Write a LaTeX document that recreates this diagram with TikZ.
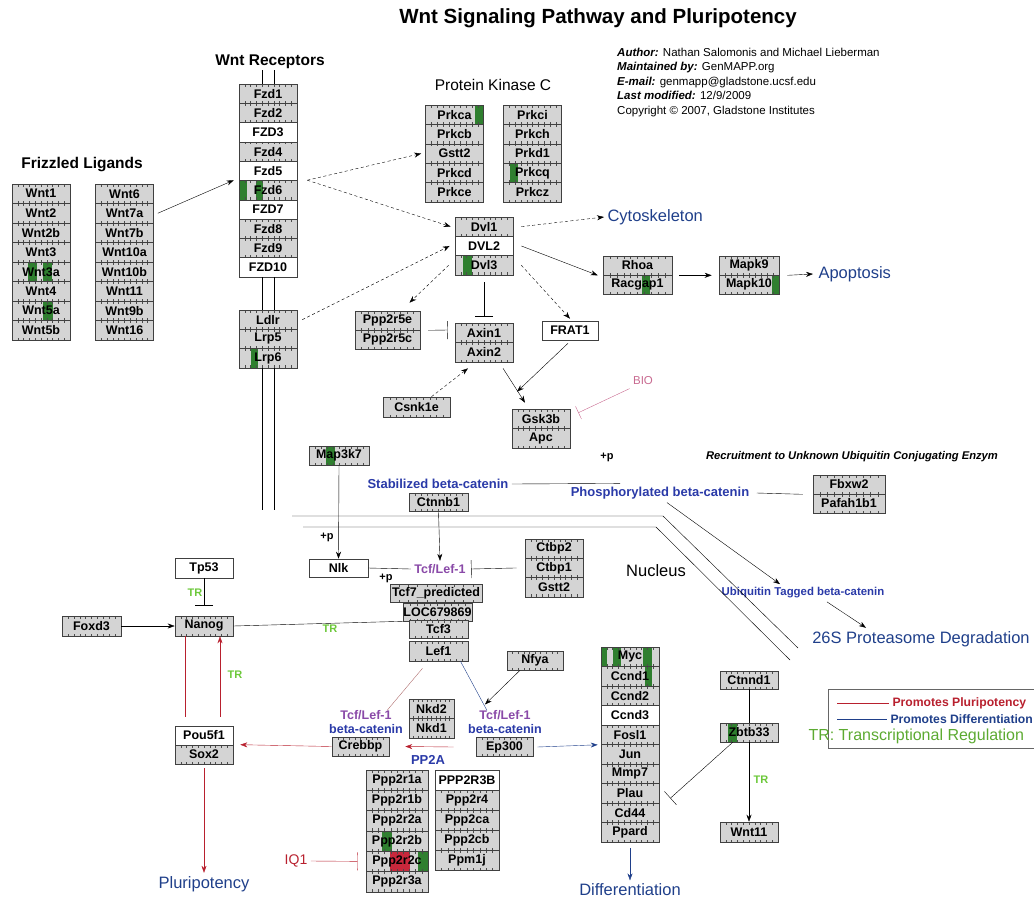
\documentclass[tikz,border=0pt]{standalone}
\usepackage{fontspec}
\setmainfont{Liberation Sans}
\usetikzlibrary{arrows.meta,calc}

\definecolor{boxgray}{HTML}{D4D4D4}
\definecolor{hlgreen}{HTML}{2F7F2F}
\definecolor{hlred}{HTML}{C8283C}
\definecolor{navy}{HTML}{1F3F8A}
\definecolor{catblue}{HTML}{2A3AA8}
\definecolor{tcfpurple}{HTML}{8A4AA8}
\definecolor{trgreen}{HTML}{6CC83A}
\definecolor{pluri}{HTML}{B8202E}
\definecolor{biopink}{HTML}{C86A90}
\definecolor{lefred}{HTML}{B07070}

% ticks and expression bars of a gene box
\newcommand\genepic{%
  \ifx\hlspec\empty\else
    \foreach \ha/\hb/\hc in \hlspec{%
      \fill[\hc] ($(path picture bounding box.south west)!\ha!(path picture bounding box.south east)$)
        rectangle ($(path picture bounding box.north west)!\hb!(path picture bounding box.north east)$);}%
  \fi
  \foreach \t in {0.1,0.2,...,0.95}{%
    \draw[black!70,line width=0.4pt]
      ($(path picture bounding box.north west)!\t!(path picture bounding box.north east)$) -- ++(0,-2.5pt)
      ($(path picture bounding box.south west)!\t!(path picture bounding box.south east)$) -- ++(0,2.5pt);}%
}

\tikzset{
  hl/.code={\def\hlspec{#1}},
  gene/.style={draw=black!75, line width=0.6pt, fill=boxgray, minimum width=58pt, minimum height=19.3pt,
    inner sep=0pt, font=\bfseries\fontsize{12.5}{13}\selectfont, hl={}, path picture={\genepic}},
  blank/.style={fill=white, path picture={}},
  heading/.style={font=\bfseries\fontsize{15.5}{17}\selectfont},
  outcome/.style={text=navy, font=\fontsize{16.5}{18}\selectfont},
  catlabel/.style={text=catblue, font=\bfseries\fontsize{13}{14}\selectfont},
  trlabel/.style={text=trgreen, font=\bfseries\fontsize{11}{12}\selectfont},
  plabel/.style={font=\bfseries\fontsize{11}{12}\selectfont},
  act/.style={-{Stealth[length=7pt,width=5pt]}},
  inh/.style={-{Bar[width=18pt]}},
  dact/.style={act, dash pattern=on 3pt off 2.5pt},
  % expression data and plain boxes
  expr/Wnt3a/.style={hl={0.28/0.43/hlgreen,0.53/0.69/hlgreen}},
  expr/Wnt5a/.style={hl={0.53/0.71/hlgreen}},
  expr/Fzd6/.style={hl={0.02/0.14/hlgreen,0.3/0.41/hlgreen}},
  expr/Lrp6/.style={hl={0.2/0.33/hlgreen}},
  expr/Prkca/.style={hl={0.85/1/hlgreen}},
  expr/Prkcq/.style={hl={0.12/0.25/hlgreen}},
  expr/Dvl3/.style={hl={0.14/0.29/hlgreen}},
  expr/Racgap1/.style={hl={0.56/0.68/hlgreen}},
  expr/Mapk10/.style={hl={0.88/1/hlgreen}},
  expr/Myc/.style={hl={0/0.1/hlgreen,0.2/0.35/hlgreen,0.72/0.88/hlgreen}},
  expr/Ccnd1/.style={hl={0.75/0.88/hlgreen}},
  expr/Ppp2r2b/.style={hl={0.26/0.42/hlgreen}},
  expr/Ppp2r2c/.style={hl={0.39/0.71/hlred,0.84/1/hlgreen}},
  expr/FZD3/.style={blank}, expr/Fzd5/.style={blank}, expr/FZD7/.style={blank},
  expr/FZD10/.style={blank}, expr/DVL2/.style={blank}, expr/Ccnd3/.style={blank},
  expr/Pou5f1/.style={blank}, expr/PPP2R3B/.style={blank},
}

\begin{document}
\begin{tikzpicture}[x=1pt,y=-1pt]
  \useasboundingbox (0,0) rectangle (1034,900);

  % Title and info
  \node (title) at (598,18) {\bfseries\fontsize{20.5}{23}\selectfont Wnt Signaling Pathway and Pluripotency};
  \node[anchor=north west, align=left, inner sep=0pt, font=\fontsize{11.5}{14.4}\selectfont] (info) at (617,48)
    {\textbf{\textit{Author:}} Nathan Salomonis and Michael Lieberman\\
     \textbf{\textit{Maintained by:}} GenMAPP.org\\
     \textbf{\textit{E-mail:}} genmapp@gladstone.ucsf.edu\\
     \textbf{\textit{Last modified:}} 12/9/2009\\
     Copyright © 2007, Gladstone Institutes};

  % Frizzled ligands
  \node[heading] (ligtitle) at (82,165) {Frizzled Ligands};
  \foreach \g [count=\i] in {Wnt1,Wnt2,Wnt2b,Wnt3,Wnt3a,Wnt4,Wnt5a,Wnt5b}
    \node[gene, minimum height=19.5pt, expr/\g/.try] (liga\i) at (41,{174.25+19.5*\i}) {\g};
  \foreach \g [count=\i] in {Wnt6,Wnt7a,Wnt7b,Wnt10a,Wnt10b,Wnt11,Wnt9b,Wnt16}
    \node[gene, minimum height=19.5pt, expr/\g/.try] (ligb\i) at (124.5,{174.25+19.5*\i}) {\g};

  % Receptors
  \node[heading] (rectitle) at (270,62) {Wnt Receptors};
  \foreach \g [count=\i] in {Fzd1,Fzd2,FZD3,Fzd4,Fzd5,Fzd6,FZD7,Fzd8,Fzd9,FZD10}
    \node[gene, expr/\g/.try] (fzd\i) at (268,{74.35+19.3*\i}) {\g};
  \foreach \g [count=\i] in {Ldlr,Lrp5,Lrp6}
    \node[gene, expr/\g/.try] (lrp\i) at (268,{300.35+19.3*\i}) {\g};
  \foreach \dx in {-6,6} {
    \draw ([xshift=\dx pt]fzd1.north) -- ++(0,-14);
    \draw ([xshift=\dx pt]fzd10.south) -- ([xshift=\dx pt]lrp1.north);
    \draw ([xshift=\dx pt]lrp3.south) -- ++(0,142);
  }

  % Protein kinase C
  \node[font=\fontsize{15.5}{17}\selectfont] (pkctitle) at (493,85) {Protein Kinase C};
  \foreach \g [count=\i] in {Prkca,Prkcb,Gstt2,Prkcd,Prkce}
    \node[gene, minimum height=19.4pt, expr/\g/.try] (pkca\i) at (454.5,{95.3+19.4*\i}) {\g};
  \foreach \g [count=\i] in {Prkci,Prkch,Prkd1,Prkcq,Prkcz}
    \node[gene, minimum height=19.4pt, expr/\g/.try] (pkcb\i) at (532.5,{95.3+19.4*\i}) {\g};

  % Dishevelled and downstream
  \foreach \g [count=\i] in {Dvl1,DVL2,Dvl3}
    \node[gene, expr/\g/.try] (dvl\i) at (484,{207.35+19.3*\i}) {\g};
  \node[outcome, anchor=west] (cyto) at (604,217) {Cytoskeleton};
  \foreach \g [count=\i] in {Rhoa,Racgap1}
    \node[gene, minimum width=69pt, minimum height=19pt, expr/\g/.try] (rho\i) at (637.5,{246.5+19*\i}) {\g};
  \foreach \g [count=\i] in {Mapk9,Mapk10}
    \node[gene, minimum width=60pt, minimum height=19pt, expr/\g/.try] (mapk\i) at (749,{246.5+19*\i}) {\g};
  \node[outcome, anchor=west] (apop) at (815,274) {Apoptosis};
  \foreach \g [count=\i] in {Ppp2r5e,Ppp2r5c}
    \node[gene, minimum width=65pt, minimum height=19pt] (pppr\i) at (387.5,{301.5+19*\i}) {\g};
  \foreach \g [count=\i] in {Axin1,Axin2}
    \node[gene, minimum height=19.5pt] (axin\i) at (484,{313.25+19.5*\i}) {\g};
  \node[gene, blank, minimum width=56pt, minimum height=19pt] (frat) at (570,330.5) {FRAT1};
  \node[gene, minimum width=67pt, minimum height=20pt] (csn) at (416.5,407) {Csnk1e};
  \foreach \g [count=\i] in {Gsk3b,Apc}
    \node[gene, minimum height=19.5pt] (gsk\i) at (541,{399.25+19.5*\i}) {\g};
  \node[text=biopink, font=\fontsize{11.5}{12}\selectfont] (bio) at (643,381) {BIO};

  \draw[act] ([xshift=4pt]ligb2.east) -- ([xshift=-5pt]fzd6.north west);
  \draw[dact] ([xshift=10pt]fzd6.north east) -- ([xshift=-4pt]pkca3.west);
  \draw[dact] ([xshift=10pt]fzd6.north east) -- ([xshift=-4pt]dvl1.west);
  \draw[dact] ([xshift=5pt]lrp1.east) -- ([xshift=-5pt]dvl2.west);
  \draw[dact] ([xshift=8pt]dvl1.east) -- (cyto.west);
  \draw[act] ([xshift=8pt]dvl2.east) -- ([xshift=-5pt]rho1.south west);
  \draw[act] ([xshift=7pt]rho1.south east) -- ([xshift=-7pt]mapk1.south west);
  \draw[act] ([xshift=8pt]mapk1.south east) -- ([xshift=-2pt]apop.west);
  \draw[dact] ([xshift=-6pt]dvl3.west) -- ([shift={(22,-8)}]pppr1.north);
  \draw[inh] ([yshift=-7pt]dvl3.south) -- ([yshift=6pt]axin1.north);
  \draw[inh] ([xshift=8pt]pppr1.south east) -- ([shift={(-7,-2.75)}]axin1.west);
  \draw[dact] ([xshift=8pt]dvl3.east) -- ([yshift=2pt]frat.north);
  \draw[act] ([shift={(-2,3)}]frat.south) -- ([shift={(-24,-17)}]gsk1.north);
  \draw[act] ([shift={(19,6)}]axin2.south) -- ([shift={(-16,-6)}]gsk1.north);
  \draw[dact] ([xshift=15pt]csn.north) -- ([shift={(-16,6)}]axin2.south);
  \draw[biopink, -{Bar[width=14pt]}] (bio.south west) -- ([shift={(8,-6)}]gsk1.east);

  % Beta-catenin
  \node[gene, minimum width=60pt, minimum height=19pt, hl={0.28/0.43/hlgreen}] (map) at (339,455.5) {Map3k7};
  \node[catlabel] (stab) at (438,484) {Stabilized beta-catenin};
  \node[gene, minimum width=59pt, minimum height=18pt] (ctnnb) at (438.5,502.5) {Ctnnb1};
  \node[catlabel] (phos) at (660,493) {Phosphorylated beta-catenin};
  \node[plabel] (plusa) at (607,457) {+p};
  \node[font=\bfseries\itshape\fontsize{11.2}{12}\selectfont] (recruit) at (852,457) {Recruitment to Unknown Ubiquitin Conjugating Enzym};
  \foreach \g [count=\i] in {Fbxw2,Pafah1b1}
    \node[gene, minimum width=72pt, minimum height=19pt] (fbx\i) at (849,{465.5+19*\i}) {\g};
  \node[catlabel, font=\bfseries\fontsize{11.4}{12}\selectfont] (ubi) at (803,593) {Ubiquitin Tagged beta-catenin};
  \node[outcome] (prot) at (921,639) {26S Proteasome Degradation};

  \draw (stab.east) -- ([xshift=-40pt]phos.north);
  \draw ([xshift=4pt]phos.east) -- ([xshift=-10pt]fbx1.south west);
  \draw[act] ([xshift=7pt]phos.south) -- ([xshift=-23pt]ubi.north);
  \draw[act] ([xshift=24pt]ubi.south) -- ([xshift=-55pt]prot.north);

  % Nuclear membrane
  \draw (292,516) -- (663,516) -- (798,648);
  \draw (303,527) -- (656,527) -- (790,660);
  \node[font=\fontsize{16.5}{18}\selectfont] (nucl) at (656,571) {Nucleus};

  % Tcf/Lef-1 complex
  \node[gene, blank, minimum width=59pt, minimum height=18pt] (nlk) at (338.5,568) {Nlk};
  \node[plabel] (plusb) at (327,537) {+p};
  \node[text=tcfpurple, font=\bfseries\fontsize{12.5}{13}\selectfont] (tcfa) at (440,569) {Tcf/Lef-1};
  \foreach \g [count=\i] in {Ctbp2,Ctbp1,Gstt2}
    \node[gene] (ctbp\i) at (554,{529.35+19.3*\i}) {\g};
  \node[plabel] (plusc) at (386,578) {+p};
  \node[gene, minimum width=92pt, minimum height=18pt] (tcf7) at (436,593.5) {Tcf7\_predicted};
  \node[gene, minimum width=69pt, minimum height=18pt] (loc) at (437.5,612) {LOC679869};
  \node[gene, minimum width=59pt, minimum height=18pt] (tcf3) at (438.5,629) {Tcf3};
  \node[gene, minimum width=59pt, minimum height=20pt] (lef) at (438.5,651) {Lef1};

  \draw[act] (map.south) -- (nlk.north);
  \draw[act] (ctnnb.south) -- (tcfa.north);
  \draw (nlk.east) -- (tcfa.west);
  \draw[inh] ([xshift=-8pt]ctbp2.west) -- ([xshift=2pt]tcfa.east);

  % Pluripotency
  \node[gene, blank, minimum height=20pt] (tp53) at (204,568) {Tp53};
  \node[gene, minimum height=20pt] (nanog) at (204,626) {Nanog};
  \node[gene, minimum width=59pt, minimum height=20pt] (foxd) at (91.5,626) {Foxd3};
  \foreach \g [count=\i] in {Pou5f1,Sox2}
    \node[gene, minimum height=19pt, expr/\g/.try] (pou\i) at (204,{716.5+19*\i}) {\g};
  \node[outcome] (plur) at (204,884) {Pluripotency};
  \node[trlabel] (tra) at (195,593) {TR};
  \node[trlabel] (trc) at (235,675) {TR};

  \draw[act] (foxd.east) -- (nanog.west);
  \draw[inh] (tp53.south) -- ([yshift=10pt]nanog.north);
  \draw (nanog.east) -- (loc.south west);
  \node[trlabel, fill=white, inner sep=1pt] (trb) at (330,629) {TR};
  \draw[pluri] ([shift={(-19,-9)}]pou1.north) -- ([xshift=-19pt]nanog.south);
  \draw[pluri, act] ([shift={(16,-9)}]pou1.north) -- ([xshift=16pt]nanog.south);
  \draw[pluri, act] ([yshift=-4pt]pou2.south) -- (plur.north);

  % Co-activators
  \node[align=center, inner sep=0pt, font=\bfseries\fontsize{12.5}{13.5}\selectfont] (cplxa) at (366,722)
    {\textcolor{tcfpurple}{Tcf/Lef-1}\\\textcolor{catblue}{beta-catenin}};
  \node[gene, minimum width=57pt, minimum height=19pt] (creb) at (360.5,746.5) {Crebbp};
  \foreach \g [count=\i] in {Nkd2,Nkd1}
    \node[gene, minimum width=45pt, minimum height=19.5pt] (nkd\i) at (431.5,{689.25+19.5*\i}) {\g};
  \node[align=center, inner sep=0pt, font=\bfseries\fontsize{12.5}{13.5}\selectfont] (cplxb) at (505,722)
    {\textcolor{tcfpurple}{Tcf/Lef-1}\\\textcolor{catblue}{beta-catenin}};
  \node[gene, minimum width=57pt, minimum height=19pt] (ep300) at (504.5,747) {Ep300};
  \node[gene, minimum width=56pt, minimum height=19pt] (nfya) at (535,660.5) {Nfya};
  \node[catlabel] (pp2a) at (428,760) {PP2A};

  \draw[lefred] ([shift={(-16,7)}]lef.south) -- ([xshift=21pt]cplxa.north);
  \draw[navy] ([xshift=22pt]lef.south) -- ([xshift=-18pt]cplxb.north);
  \draw[act] ([xshift=-15pt]nfya.south) -- ([shift={(-20,-6)}]cplxb.north);
  \draw[pluri, act] (creb.west) -- ([xshift=7pt]pou2.north east);
  \draw[pluri, act] ([xshift=-22pt]ep300.west) -- ([xshift=16pt]creb.east);

  % PP2A subunits
  \foreach \g [count=\i] in {Ppp2r1a,Ppp2r1b,Ppp2r2a,Ppp2r2b,Ppp2r2c,Ppp2r3a}
    \node[gene, minimum width=62pt, minimum height=20.3pt, expr/\g/.try] (ppa\i) at (397,{759.85+20.3*\i}) {\g};
  \foreach \g [count=\i] in {PPP2R3B,Ppp2r4,Ppp2ca,Ppp2cb,Ppm1j}
    \node[gene, minimum width=64pt, minimum height=20pt, expr/\g/.try] (ppb\i) at (467,{760+20*\i}) {\g};
  \node[text=pluri, font=\fontsize{14}{16}\selectfont] (iq) at (296,861) {IQ1};
  \draw[pluri, inh] (iq.east) -- ([xshift=-8pt]ppa5.west);

  % Targets
  \foreach \g [count=\i] in {Myc,Ccnd1,Ccnd2,Ccnd3,Fosl1,Jun,Mmp7,Plau,Cd44,Ppard}
    \node[gene, minimum height=19.5pt, expr/\g/.try] (myc\i) at (630,{637.25+19.5*\i}) {\g};
  \node[outcome] (diff) at (630,890) {Differentiation};
  \node[gene, minimum height=18pt] (ctnnd) at (749,680) {Ctnnd1};
  \node[gene, minimum height=19pt, hl={0.14/0.29/hlgreen}] (zbtb) at (749,732.5) {Zbtb33};
  \node[gene, minimum height=20pt] (wntout) at (749,832) {Wnt11};
  \node[trlabel] (trd) at (761,780) {TR};

  \draw[navy, act] ([xshift=4pt]ep300.east) -- ([xshift=-3pt]myc5.south west);
  \draw[navy, act] ([yshift=-6pt]myc10.south) -- (diff.north);
  \draw (ctnnd.south) -- (zbtb.north);
  \draw[act] (zbtb.south) -- (wntout.north);
  \draw[inh] ([xshift=13pt]zbtb.south west) -- ([shift={(11,5)}]myc8.east);

  % Legend
  \draw[black!60] (828,689) rectangle (1040,748);
  \node[anchor=west, text=pluri, font=\bfseries\fontsize{12.2}{13}\selectfont] (lega) at (889,703) {Promotes Pluripotency};
  \node[anchor=west, text=navy, font=\bfseries\fontsize{12.2}{13}\selectfont] (legb) at (887,719) {Promotes Differentiation};
  \node[anchor=west, text=trgreen!85!black, font=\fontsize{16}{18}\selectfont] (legc) at (805,736) {TR: Transcriptional Regulation};
  \draw[pluri] (837,703) -- (lega.west);
  \draw[navy] (837,719) -- (legb.west);
\end{tikzpicture}
\end{document}
